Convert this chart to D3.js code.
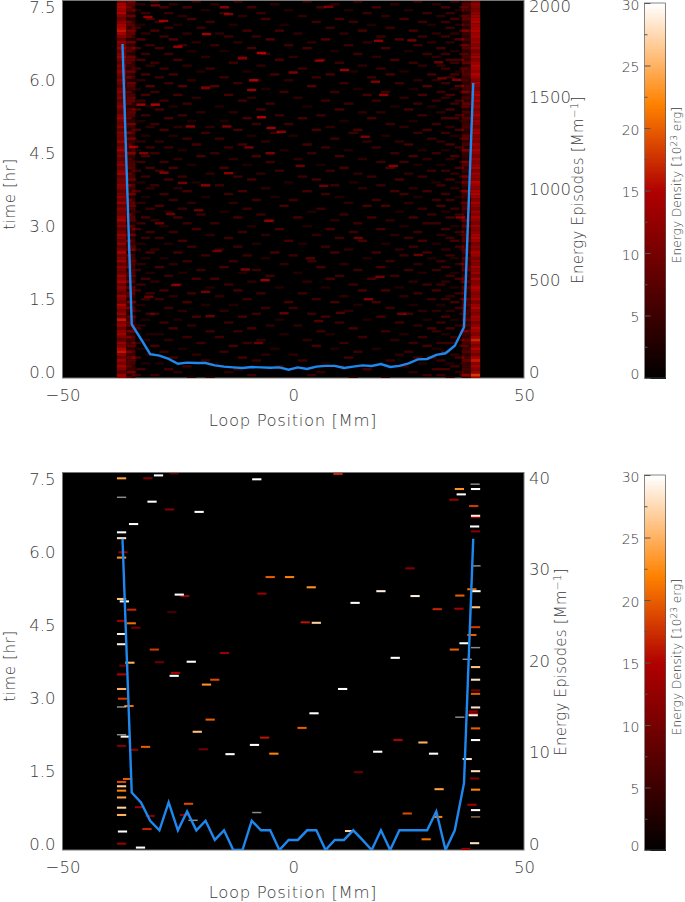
<!DOCTYPE html>
<html lang="en">
<head>
<meta charset="UTF-8">
<title>Energy episodes along the loop</title>
<script src="https://d3js.org/d3.v7.min.js"></script>
<style>
  html, body { margin: 0; background: #fff; }
  svg { display: block; }
  text { font-family: "DejaVu Sans", sans-serif; font-weight: 200; fill: #3c3c3c; }
</style>
</head>
<body>
<div class="chart"></div>
<script>
const w = 685, h = 902;

// episodes per Mm, one value per 2 Mm bin
const linePositions = [-37,-35,-33,-31,-29,-27,-25,-23,-21,-19,-17,-15,-13,-11,-9,-7,-5,-3,-1,1,3,5,7,9,11,13,15,17,19,21,23,25,27,29,31,33,35,37,39];
const topLine = [1825,293,213,130,122,104,78,84,82,82,69,62,58,55,60,58,56,58,45,58,49,62,66,66,55,62,69,66,76,60,66,80,102,104,126,135,176,277,1612];
const bottomLine = [34,6.27,5.2,3.2,2.15,5.2,2.15,4.2,2.15,3.2,1.1,2.15,0,0,3.2,2.15,2.15,0,1.1,1.1,2.15,2.15,0,1.1,1.1,2.15,1.1,0,2.15,0,2.15,2.15,2.15,2.15,4.2,0,2.15,7.3,34];

// colour table of the energy scale
const colorStops = [0, 15, 22, 30];
const colorValues = ["#000000", "#b00000", "#ff8200", "#ffffff"];

// tick labels
const timeTicks = [0, 1.5, 3, 4.5, 6, 7.5];
const posTicks = [-50, 0, 50];
const topEpisodeTicks = [0, 500, 1000, 1500, 2000];
const bottomEpisodeTicks = [0, 10, 20, 30, 40];
const barTicks = [0, 5, 10, 15, 20, 25, 30];
const barMinorTicks = [2.5, 7.5, 12.5, 17.5, 22.5, 27.5];

// top panel, footpoint columns: energy per time row, top row first (row step 0.06 hr)
const leftColumn = [10,14,15,13,15,11,9,12,14,15,16,14,11,8,12,10,13,9,11,13,10,8,11,9,12,10,8,11,9,7,10,12,9,11,8,10,12,9,8,11,13,10,9,12,8,11,10,9,12,8,10,13,9,11,8,10,12,9,11,13,8,10,9,12,11,8,10,12,9,13,8,11,10,9,12,14,9,11,8,10,13,11,9,12,8,10,14,9,11,13,8,12,10,9,13,11,14,9,12,10,8,13,11,9,15,12,10,13,9,16,11,13,9,12,14,10,8,13,11,15,16,12,9,13,10,14,11,8,13,15];
const rightColumn = [9,12,11,10,12,13,14,15,13,14,15,13,14,12,13,11,13,10,12,14,11,13,15,14,12,15,13,11,14,12,10,13,15,12,14,11,13,10,12,14,11,13,12,10,13,14,11,12,10,13,11,14,12,10,13,11,12,14,10,13,12,11,15,13,12,14,15,13,11,14,12,10,13,11,14,12,10,13,11,12,14,15,13,10,12,11,14,13,10,12,11,14,12,13,10,14,11,12,15,13,11,12,14,10,13,15,12,11,14,13,10,12,15,13,11,14,17,13,11,15,12,10,14,16,12,14,11,13,18,15];
// the fainter strip just inside each column
const leftShoulder = [6,8,5,7,4,6,3,5,7,4,6,8,5,3,6,4,7,5,3,6,8,4,5,3,7,4,6,3,5,7,4,3,6,5,8,4,3,6,5,7,3,4,6,5,3,7,4,6,5,3,6,4,8,5,3,6,4,7,3,5,6,4,3,7,5,4,6,3,5,8,4,6,3,5,7,4,3,6,5,4,7,3,6,5,4,8,3,5,6,4,7,5,3,6,4,5,7,3,6,4,8,5,3,6,4,7,5,3,4,6,5,8,3,6,4,7,5,6,3,4,7,5,8,3,6,4,5,7,3,6];
const rightShoulder = [5,7,4,6,3,5,8,4,6,3,7,5,4,6,3,5,7,4,3,6,5,8,3,4,6,7,5,3,4,6,5,7,3,6,4,8,5,3,6,4,7,3,5,6,4,3,7,5,4,6,3,8,5,4,3,6,7,4,5,3,6,4,8,5,3,7,6,4,3,5,6,7,4,3,5,6,4,8,3,5,4,6,7,3,5,4,6,3,7,5,4,6,8,3,5,4,6,3,7,5,4,3,6,5,7,4,6,3,5,8,4,6,3,7,5,4,8,6,3,5,7,4,6,8,3,5,6,4,9,5];

// top panel, brighter episodes read one by one: position Mm, time hr, energy
const topBrightPos = [-18.8,-6.9,-31.5,-29.9,-28.1,-14.9,-14,-25,-11,0,-8.6,-9,-19,-29.9,-33,-6.9,-22.3,-14.4,-4.8,-2.6,-34.6,-32.4,-5,-9.6,-28,-14,-19,-24,11.1,7.7,18.5,19.6,5.6,15.6,21.7,25.7,35.4,17.8,31.5,32.2,6.6,1.5,-6.1,-26.6,-29,-20.5,-5.3,-10.4,-16.5,-19,-18,-7.5,-31.3,-25.5,-2,16.3,36.2,18.8,23.5,27.1,14.1,5.5,3.7,10.2];
const topBrightTime = [7.07,6.68,7.42,7.66,7.34,7.62,7.48,6.81,6.57,6.28,6.12,5.92,5.97,5.62,5.62,5.36,5.17,5.17,5.14,5.06,4.75,4.62,4.62,4.74,4.22,4.21,3.96,4.01,6.33,7.63,6.93,5.82,6.52,4.96,4.36,6.94,6.13,6.09,6.49,6.16,3.95,4.36,2.01,3.37,3.18,3.45,3.23,2.23,2.61,1.77,1.27,0.72,1.67,1.91,1.33,1.62,3.3,2.08,1.32,2.53,2.88,1.17,2.46,1.34];
const topBrightEnergy = [14,15,12,10,13,12,11,13,11,11,14,13,11,15,14,15,12,11,13,12,12,11,11,10,11,12,12,10,13,10,12,12,10,11,11,10,11,11,9,9,9,9,13,9,9,9,11,11,9,10,9,9,9,10,9,11,11,10,9,9,9,7,7,7];

// top panel, faint episodes estimated row by row (row step 0.06 hr, top row first): energy, then positions.
// The reference holds more than can be read singly, so these follow its density by eye.
const topRows = [
[5,-35,-30,-21,-12,3,14,27,35],[4,-33,-26,-17,-4,9,22,31],[6,-36,-28,-23,-9,6,18,33,37],[3,-34,-19,-1,12,25,36],
[5,-32,-27,-15,-7,16,29,34],[4,-35,-24,-11,2,20,32,37],[6,-31,-22,-6,10,24,35],[5,-36,-29,-18,5,13,28,33],
[3,-33,-25,-13,-2,17,30,36],[5,-34,-27,-20,8,21,34],[6,-35,-30,-10,-3,15,26,37],[4,-32,-23,-16,1,11,31,35],
[5,-36,-28,-14,-8,19,28,33],[7,-33,-26,-5,7,23,36],[4,-35,-21,-12,4,16,30,34],[5,-31,-24,-17,-1,12,27,37],
[6,-34,-29,-9,3,20,32],[3,-36,-22,-15,9,25,35],[5,-32,-27,-6,14,29,33,37],[4,-35,-19,-11,0,18,31],
[6,-33,-25,-3,6,22,34,36],[5,-36,-30,-13,10,26,35],[4,-31,-23,-7,15,28,32],[5,-34,-28,-18,2,19,33,37],
[3,-35,-20,-10,13,24,36],[6,-32,-26,-4,8,21,30,35],[5,-36,-29,-15,5,17,34],[4,-33,-22,-8,-1,27,31,37],
[5,-35,-27,-12,11,23,33],[7,-31,-24,-17,4,29,36],[3,-34,-19,-6,14,26,35],[5,-36,-30,-2,9,20,32,37],
[6,-32,-25,-14,16,28,34],[4,-35,-21,-9,1,24,33],[5,-33,-28,-11,7,18,31,36],[5,-36,-23,-5,12,27,35],
[3,-31,-26,-16,3,22,30,37],[6,-34,-29,-7,10,25,34],[4,-35,-20,-13,15,19,32],[5,-32,-24,-3,6,28,36],
[6,-36,-27,-10,2,17,33,35],[3,-33,-22,-15,11,26,37],[5,-35,-30,-8,-1,21,31],[4,-31,-25,-18,8,24,34],
[6,-34,-28,-12,5,14,29,36],[5,-36,-19,-4,13,27,33],[3,-32,-26,-9,0,20,35],[5,-35,-23,-16,9,30,37],
[4,-33,-29,-6,16,23,32],[6,-36,-21,-11,3,25,34],[5,-31,-27,-14,7,18,36],[3,-34,-24,-2,12,28,33,37],
[5,-35,-30,-17,4,22,31],[6,-32,-20,-8,10,26,35],[4,-36,-25,-13,1,15,29,34],[5,-33,-28,-5,19,24,37],
[3,-35,-22,-10,6,27,32],[6,-31,-26,-15,11,21,36],[5,-34,-29,-3,8,30,33],[4,-36,-18,-7,14,25,35],
[5,-32,-24,-12,2,17,28,37],[6,-35,-27,-9,5,23,34],[3,-33,-21,-1,13,31,36],[5,-36,-30,-16,9,19,32],
[4,-31,-25,-6,15,26,35],[6,-34,-23,-11,3,22,29,37],[5,-35,-28,-14,7,24,33],[3,-32,-19,-4,10,27,36],
[5,-36,-26,-8,0,18,31,34],[4,-33,-22,-13,12,25,37],[6,-35,-29,-2,16,20,32],[5,-31,-24,-10,6,28,35],
[3,-34,-27,-15,4,23,33],[5,-36,-20,-7,11,30,36],[6,-32,-25,-12,1,17,26,34],[4,-35,-30,-5,9,21,37],
[5,-33,-23,-17,14,29,31],[3,-36,-28,-9,3,24,35],[6,-34,-21,-3,8,19,33],[5,-31,-26,-11,13,27,36],
[4,-35,-18,-6,5,22,32,37],[5,-32,-29,-14,10,25,34],[6,-36,-24,-1,15,28,35],[3,-33,-27,-8,2,20,31],
[5,-35,-22,-12,7,26,36],[4,-34,-30,-16,12,23,33,37],[6,-31,-25,-4,9,18,29],[5,-36,-19,-10,0,24,34],
[3,-32,-28,-6,16,30,35],[5,-35,-23,-13,4,21,32],[4,-33,-26,-2,11,27,36,37],[6,-36,-29,-15,6,19,33],
[5,-34,-20,-8,14,25,31],[3,-31,-24,-11,1,28,35],[5,-35,-27,-5,10,22,34],[6,-32,-21,-17,8,17,36],
[4,-36,-30,-9,3,26,33,37],[5,-33,-25,-14,13,29,32],[3,-35,-18,-3,7,23,35],[6,-34,-28,-12,15,20,31],
[5,-31,-22,-7,2,27,36],[4,-36,-26,-16,11,24,34],[5,-32,-29,-10,5,30,33,37],[6,-35,-23,-1,9,18,35],
[3,-33,-19,-13,14,26,32],[5,-36,-27,-6,0,21,36],[4,-34,-24,-15,12,28,31,34],[5,-31,-30,-8,4,25,37],
[6,-35,-21,-11,7,19,33],[3,-32,-25,-3,16,29,35],[5,-36,-28,-14,10,23,32],[4,-33,-22,-5,1,27,36],
[6,-34,-26,-9,13,30,34],[5,-35,-18,-12,6,20,31,37],[3,-31,-29,-2,8,24,33],[5,-36,-23,-16,15,28,35],
[4,-32,-27,-7,3,22,36],[5,-34,-20,-10,11,26,32,34],[6,-35,-30,-13,5,29,37],[3,-33,-24,-4,9,18,31],
[5,-36,-28,-15,14,25,33],[4,-31,-21,-6,0,23,35],[6,-34,-26,-11,12,27,30,36],[5,-35,-19,-8,2,21,32],
[3,-32,-29,-17,7,28,34,37],[5,-36,-23,-3,10,24,35],[6,-33,-27,-12,16,31,33],[4,-35,-25,-14,6,26,36],
[5,-34,-30,-9,4,29,32,37],[5,-36,-22,-18,13,20,34]
];

// bottom panel, episodes read one by one: position Mm, time hr, energy
const bottomPos = [-37.2,-31.5,-29.2,-25.8,-7.9,-30.6,-26.8,-20.4,-34.6,-37.2,-37.2,-36.9,-37.2,-5,-0.8,-6.8,-37.2,-36.6,-24.7,-23.5,-35,-26.3,-37.2,-35.1,-34.1,-37.2,-37.2,-30.1,-14.9,-35.4,-29,-22.1,-36.7,-37.2,-25.5,-25.8,-17,-18.8,-37.2,-37,-35.6,-18,-20.8,-36.4,-32,-37.2,-34.6,-19.5,-13.7,-8.4,-6.2,-4.2,1.9,-35.9,-37.2,-37.2,-37.2,-37.2,-37.2,-37.2,-33.3,-31,-22.7,-23.6,-31.7,-37,-37.2,-33.1,9.7,36,39.5,36.4,34.8,39.1,39.5,39.5,39.3,39.5,25.3,3.9,19,26.4,36.1,38.7,39.6,13.4,31.2,35.9,39.5,2.6,5,39.5,38.7,37,34.9,22.1,39.5,10.7,39.5,39.5,39.5,4.5,39.5,39,39,39,39.5,39.5,22.7,28.1,18.3,30.4,37.7,39.5,14.1,39.3,31.6,39.5,38.7,39.5,24.7,31.3,12.2,28.8,39.3,37.4];
const bottomTime = [7.64,7.64,7.7,7.74,7.62,7.16,7,6.95,6.7,6.53,6.41,6.12,6.01,5.61,5.61,5.27,5.16,5.11,5.25,5.22,4.94,4.89,4.71,4.66,4.57,4.44,4.23,4.12,4.05,3.85,3.86,3.87,3.79,3.61,3.64,3.58,3.5,3.4,3.31,3.11,2.96,2.68,2.43,2.33,2.12,2.14,2.06,2.07,1.97,2.16,2.31,1.98,2.51,1.46,1.4,1.31,1.22,1.08,0.87,0.72,0.88,0.7,0.95,0.72,0.43,0.38,0.13,0.05,7.73,7.42,7.42,7.31,7.2,7.07,6.87,6.84,6.65,6.55,5.79,5.4,5.32,5.22,5.23,5.36,5.32,5.08,4.95,4.96,4.99,4.68,4.67,4.58,4.42,4.25,4.12,3.95,3.76,3.31,3.5,3.28,3.21,2.81,2.93,2.85,2.8,2.77,2.5,2.26,2.26,2.21,2.02,1.98,1.87,1.62,1.6,1.47,1.25,1.24,0.93,0.82,0.75,0.68,0.39,0.22,0.14,0.02];
const bottomEnergy = [24,11,30,8,30,30,11,30,30,30,28,13,23,20,22,13,26,30,30,13,17,6,14,21,10,29,29,18,13,25,9,30,10,15,14,30,19,23,25,18,21,20,26,29,20,11,12,10,30,30,16,22,20,20,19,27,22,24,27,25,13,11,19,12,17,30,13,30,17,23,30,30,13,18,29,14,30,12,11,23,29,29,20,21,30,30,17,14,26,16,27,18,20,30,20,30,26,30,28,10,20,30,28,12,15,29,20,30,15,25,30,30,28,28,9,11,24,22,14,30,19,22,27,21,28,13];

// bottom panel, thin episodes that read grey or tan after the picture was resampled
const faintPos = [-37.2,-37.2,-37.2,-21.7,-7.9,39.4,39.6,39.5,37.7,36.1,39.5];
const faintTime = [7.25,2.94,2.37,0.61,0.77,7.52,5.84,4.16,3.92,2.73,0.68];
const faintEnergy = [30,30,30,30,30,30,30,30,30,30,26];

const svg = d3.select(".chart").append("svg").attr("width", w).attr("height", h);

const color = d3.scaleLinear().domain(colorStops).range(colorValues).clamp(true);
const line_color = "#1e88ee";

// slight smear, the reference was resampled
const defs = svg.append("defs");
function addSmear(id, dev) {
    defs.append("filter").attr("id", id)
        .attr("x", "-5%").attr("y", "-5%").attr("width", "110%").attr("height", "110%")
        .append("feGaussianBlur").attr("stdDeviation", dev);
}
addSmear("smearSoft", "0.75 0.5");
addSmear("smearTight", "0.5 0.4");

function appendStreaks(g, rows, dur, opacity) {
    g.selectAll(null)
        .data(rows)
        .join("rect")
        .attr("x", d => g.xs(d.pos - 1))
        .attr("width", d => g.xs(d.pos + 1) - g.xs(d.pos - 1))
        .attr("y", d => g.ts(d.hr + dur / 2))
        .attr("height", d => g.ts(d.hr - dur / 2) - g.ts(d.hr + dur / 2))
        .attr("fill", d => color(d.e))
        .attr("opacity", opacity)
        .style("mix-blend-mode", "screen");
}

function zip(pos, hr, e) {
    return pos.map((p, i) => ({ pos: p, hr: hr[i], e: e[i] }));
}

function drawPanel(top, episodeMax, episodeTicks, lineValues, drawStreaks, episodeLabelX) {
    const g = svg.append("g").attr("transform", `translate(0,${top})`);
    const xScale = d3.scaleLinear().domain([-50, 50]).range([62.5, 524]);
    const tScale = d3.scaleLinear().domain([0, 7.77]).range([378, 0]);
    const eScale = d3.scaleLinear().domain([0, episodeMax]).range([378, 0]);

    g.append("rect").attr("x", 62.5).attr("y", 0.5).attr("width", 461.5).attr("height", 377.5)
        .attr("fill", "#000").attr("stroke", "#777").attr("stroke-width", 1);

    const clipId = "clip" + top;
    defs.append("clipPath").attr("id", clipId).append("rect")
        .attr("x", 63).attr("y", 1).attr("width", 460.5).attr("height", 377);
    const clipped = g.append("g").attr("clip-path", `url(#${clipId})`);
    const layer = smear => {
        const s = clipped.append("g").attr("filter", `url(#${smear})`);
        s.xs = xScale;
        s.ts = tScale;
        return s;
    };
    drawStreaks(layer);

    const lineGen = d3.line().x((d, i) => xScale(linePositions[i])).y(d => eScale(d));
    clipped.append("path").datum(lineValues)
        .attr("d", lineGen)
        .attr("fill", "none")
        .attr("stroke", line_color)
        .attr("stroke-width", 2.4)
        .attr("stroke-linejoin", "miter");

    // axes, IDL sets its labels a little above the tick position
    const xAxis = g.append("g").attr("transform", "translate(0,378)")
        .call(d3.axisBottom(xScale).tickValues(posTicks).tickSize(0).tickPadding(11));
    const tAxis = g.append("g").attr("transform", "translate(62.5,0)")
        .call(d3.axisLeft(tScale).tickValues(timeTicks).tickFormat(d3.format(".1f")).tickSize(0).tickPadding(7));
    const eAxis = g.append("g").attr("transform", "translate(524,0)")
        .call(d3.axisRight(eScale).tickValues(episodeTicks).tickFormat(d3.format("d")).tickSize(0).tickPadding(5));
    [xAxis, tAxis, eAxis].forEach(a => {
        a.select(".domain").remove();
        a.selectAll("text").style("font-size", "16.5px").attr("fill", null);
        a.attr("font-family", null).attr("font-size", null);
    });
    tAxis.selectAll("text").attr("dy", "-0.03em");
    eAxis.selectAll("text").attr("dy", "-0.03em");

    g.append("text").attr("x", 293).attr("y", 426).attr("text-anchor", "middle")
        .style("font-size", "16.5px").style("letter-spacing", "0.6px").text("Loop Position [Mm]");
    g.append("text").attr("transform", "translate(15,194) rotate(-90)").attr("text-anchor", "middle")
        .style("font-size", "15px").style("letter-spacing", "0.6px").text("time [hr]");

    const epLabel = g.append("text").attr("transform", `translate(${episodeLabelX},190) rotate(-90)`)
        .attr("text-anchor", "middle").style("font-size", "15px").style("letter-spacing", "0.2px");
    epLabel.append("tspan").text("Energy Episodes [Mm");
    epLabel.append("tspan").attr("dy", -5).style("font-size", "10.5px").text("−1");
    epLabel.append("tspan").attr("dy", 5).text("]");

    // colour bar
    const barScale = d3.scaleLinear().domain([0, 30]).range([378, 3]);
    const bar = g.append("g");
    bar.selectAll("rect").data(d3.range(0, 30, 0.1)).join("rect")
        .attr("x", 644.5).attr("width", 21)
        .attr("y", d => barScale(d + 0.1))
        .attr("height", d => barScale(d) - barScale(d + 0.1) + 1)
        .attr("fill", d => color(d + 0.05))
        .attr("shape-rendering", "crispEdges");
    bar.append("rect").attr("x", 644.5).attr("y", barScale(30)).attr("width", 21)
        .attr("height", barScale(0) - barScale(30))
        .attr("fill", "none").attr("stroke", "#555").attr("stroke-width", 0.7);
    const barAxis = bar.append("g").attr("transform", "translate(644.5,0)")
        .call(d3.axisLeft(barScale).tickValues(barTicks).tickSize(-6).tickPadding(5));
    barAxis.select(".domain").remove();
    barAxis.selectAll("line").attr("stroke", "#555");
    barAxis.selectAll("text").style("font-size", "14px").attr("fill", null).attr("dy", "0.45em");
    barAxis.attr("font-family", null).attr("font-size", null);
    barAxis.selectAll("text").filter(d => d === 0).attr("dy", "0.05em");
    const barMinor = bar.append("g").attr("transform", "translate(644.5,0)")
        .call(d3.axisLeft(barScale).tickValues(barMinorTicks).tickSize(-3).tickFormat(""));
    barMinor.select(".domain").remove();
    barMinor.selectAll("line").attr("stroke", "#555");

    const barLabel = g.append("text").attr("transform", "translate(681,185) rotate(-90)")
        .attr("text-anchor", "middle").style("font-size", "12.2px");
    barLabel.append("tspan").text("Energy Density [10");
    barLabel.append("tspan").attr("dy", -4).style("font-size", "9px").text("23");
    barLabel.append("tspan").attr("dy", 4).text(" erg]");
}

drawPanel(0, 2065, topEpisodeTicks, topLine, layer => {
    const rowStep = 0.06, topHr = 7.74;
    const faint = [];
    topRows.forEach((r, i) => r.slice(1).forEach(p => faint.push({ pos: p, hr: topHr - i * rowStep, e: r[0] })));
    const soft = layer("smearSoft");
    appendStreaks(soft, faint, 0.05, 1);
    appendStreaks(soft, zip(topBrightPos, topBrightTime, topBrightEnergy), 0.05, 1);
    appendStreaks(soft, leftShoulder.map((e, i) => ({ pos: -35.2, hr: topHr - i * rowStep, e })), 0.06, 1);
    appendStreaks(soft, rightShoulder.map((e, i) => ({ pos: 37.5, hr: topHr - i * rowStep, e })), 0.06, 1);
    const tight = layer("smearTight");
    appendStreaks(tight, leftColumn.map((e, i) => ({ pos: -37.2, hr: topHr - i * rowStep, e })), 0.06, 1);
    appendStreaks(tight, rightColumn.map((e, i) => ({ pos: 39.5, hr: topHr - i * rowStep, e })), 0.06, 1);
}, 583);

drawPanel(472, 41.3, bottomEpisodeTicks, bottomLine, layer => {
    const tight = layer("smearTight");
    appendStreaks(tight, zip(faintPos, faintTime, faintEnergy), 0.03, 0.55);
    appendStreaks(tight, zip(bottomPos, bottomTime, bottomEnergy), 0.042, 1);
}, 566);
</script>
</body>
</html>
